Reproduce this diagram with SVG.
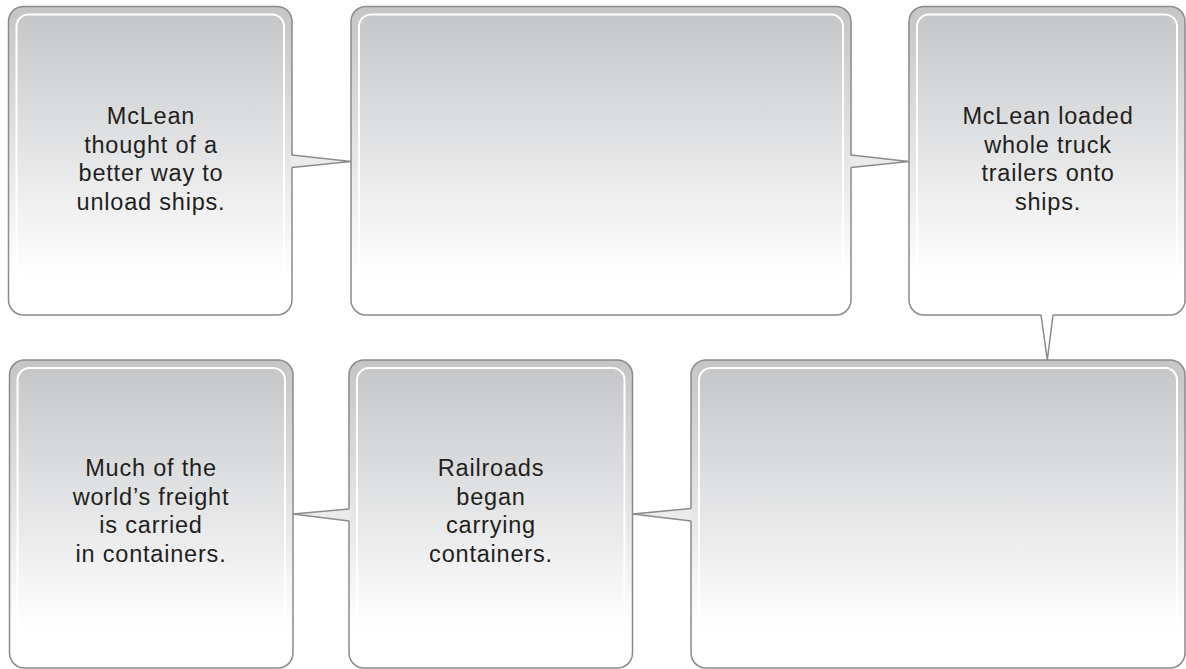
<svg xmlns="http://www.w3.org/2000/svg" width="1186" height="669" viewBox="0 0 1186 669">
<defs>
<linearGradient id="g" x1="0" y1="0" x2="0" y2="1">
<stop offset="0" stop-color="#c4c5c7"/>
<stop offset="0.45" stop-color="#e2e3e4"/>
<stop offset="0.75" stop-color="#f7f7f8"/>
<stop offset="0.88" stop-color="#ffffff"/>
<stop offset="1" stop-color="#ffffff"/>
</linearGradient>
</defs>
<style>
.box{fill:url(#g);stroke:#8a8b8d;stroke-width:1.5}
.inner{fill:none;stroke:#ffffff;stroke-width:2}
.t{font-family:"Liberation Sans",Arial,sans-serif;font-size:23.5px;letter-spacing:0.8px;fill:#231f20;text-anchor:middle}
.wf{stroke:none}
.ws{fill:none;stroke:#8a8b8d;stroke-width:1.5;stroke-linejoin:miter}
</style>
<rect width="1186" height="669" fill="#ffffff"/>
<g id="node1">
<rect class="box" x="8.5" y="6.5" width="283.5" height="308.5" rx="15"/>
<rect class="inner" x="16.5" y="14.5" width="267.5" height="292.5" rx="12"/>
<text class="t" x="151" y="124">McLean</text>
<text class="t" x="151" y="152.5">thought of a</text>
<text class="t" x="151" y="181">better way to</text>
<text class="t" x="151" y="209.5">unload ships.</text>
</g>
<g id="node2">
<rect class="box" x="351" y="6.5" width="500" height="308.5" rx="15"/>
<rect class="inner" x="359" y="14.5" width="484" height="292.5" rx="12"/>
</g>
<g id="node3">
<rect class="box" x="909" y="6.5" width="276" height="308.5" rx="15"/>
<rect class="inner" x="917" y="14.5" width="260" height="292.5" rx="12"/>
<text class="t" x="1048" y="124">McLean loaded</text>
<text class="t" x="1048" y="152.5">whole truck</text>
<text class="t" x="1048" y="181">trailers onto</text>
<text class="t" x="1048" y="209.5">ships.</text>
</g>
<g id="node4">
<rect class="box" x="9.5" y="360" width="283.5" height="308" rx="15"/>
<rect class="inner" x="17.5" y="368" width="267.5" height="292" rx="12"/>
<text class="t" x="151" y="476">Much of the</text>
<text class="t" x="151" y="504.5">world’s freight</text>
<text class="t" x="151" y="533">is carried</text>
<text class="t" x="151" y="561.5">in containers.</text>
</g>
<g id="node5">
<rect class="box" x="349" y="360" width="283.5" height="308" rx="15"/>
<rect class="inner" x="357" y="368" width="267.5" height="292" rx="12"/>
<text class="t" x="491" y="476">Railroads</text>
<text class="t" x="491" y="504.5">began</text>
<text class="t" x="491" y="533">carrying</text>
<text class="t" x="491" y="561.5">containers.</text>
</g>
<g id="node6">
<rect class="box" x="691" y="360" width="494" height="308" rx="15"/>
<rect class="inner" x="699" y="368" width="478" height="292" rx="12"/>
</g>
<g id="connectors">
<polygon class="wf" fill="#ebebec" points="290.5,155.5 351,161.5 290.5,167.5"/>
<polyline class="ws" points="292,155 351,161.5 292,167.5"/>
<polygon class="wf" fill="#ebebec" points="849.5,155.5 909,161.5 849.5,167.5"/>
<polyline class="ws" points="851,155 909,161.5 851,167.5"/>
<polygon class="wf" fill="#ffffff" points="1041,313.5 1047.3,360 1053,313.5"/>
<polyline class="ws" points="1041,315 1047.3,360 1053,315"/>
<polygon class="wf" fill="#ebebec" points="350.5,509 293,514 350.5,521"/>
<polyline class="ws" points="349,509 293,514 349,521"/>
<polygon class="wf" fill="#ebebec" points="692.5,508.5 632.5,514 692.5,521"/>
<polyline class="ws" points="691,508.5 632.5,514 691,521"/>
</g>
</svg>
